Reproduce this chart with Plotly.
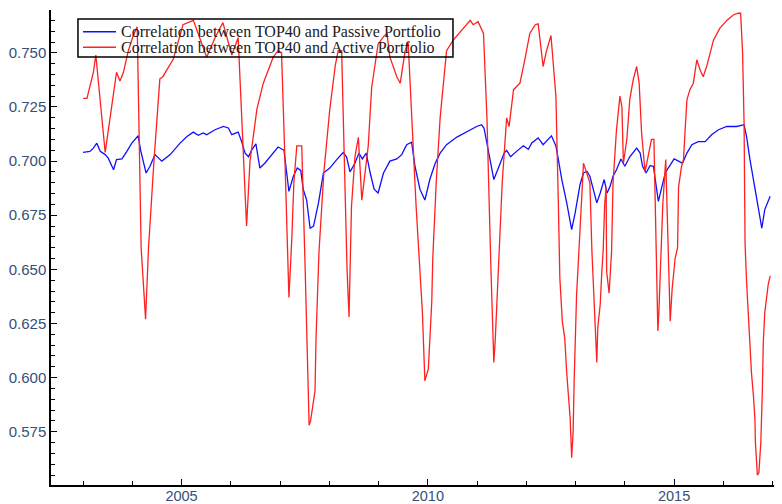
import plotly.graph_objects as go

# Passive portfolio correlation (decimal year, value)
passive_year = [2003.00, 2003.14, 2003.21, 2003.28, 2003.35, 2003.45, 2003.51, 2003.62, 2003.68, 2003.79,
                2003.89, 2003.99, 2004.12, 2004.17, 2004.28, 2004.36, 2004.46, 2004.60, 2004.77, 2004.97,
                2005.11, 2005.24, 2005.34, 2005.44, 2005.51, 2005.68, 2005.85, 2005.95, 2006.02, 2006.15,
                2006.22, 2006.29, 2006.36, 2006.42, 2006.51, 2006.59, 2006.69, 2006.86, 2006.96, 2007.08,
                2007.14, 2007.18, 2007.27, 2007.35, 2007.42, 2007.47, 2007.54, 2007.61, 2007.68, 2007.78,
                2007.88, 2008.01, 2008.15, 2008.28, 2008.35, 2008.42, 2008.52, 2008.60, 2008.67, 2008.75,
                2008.83, 2008.91, 2008.99, 2009.10, 2009.23, 2009.37, 2009.47, 2009.57, 2009.67, 2009.74,
                2009.84, 2009.94, 2010.04, 2010.15, 2010.25, 2010.38, 2010.59, 2010.79, 2010.99, 2011.09,
                2011.14, 2011.21, 2011.26, 2011.34, 2011.47, 2011.55, 2011.60, 2011.68, 2011.80, 2011.94,
                2012.04, 2012.11, 2012.24, 2012.34, 2012.51, 2012.60, 2012.65, 2012.72, 2012.82, 2012.92,
                2012.99, 2013.09, 2013.16, 2013.23, 2013.29, 2013.37, 2013.43, 2013.50, 2013.58, 2013.64,
                2013.70, 2013.76, 2013.83, 2013.92, 2014.00, 2014.10, 2014.24, 2014.31, 2014.36, 2014.43,
                2014.51, 2014.58, 2014.63, 2014.68, 2014.75, 2014.82, 2014.88, 2015.00, 2015.09, 2015.17,
                2015.26, 2015.36, 2015.49, 2015.63, 2015.76, 2015.90, 2016.07, 2016.27, 2016.42, 2016.47,
                2016.54, 2016.61, 2016.69, 2016.78, 2016.84, 2016.95]
passive_corr = [0.7040, 0.7045, 0.7060, 0.7083, 0.7045, 0.7030, 0.7015, 0.6960, 0.7007, 0.7010,
                0.7045, 0.7083, 0.7117, 0.7050, 0.6945, 0.6976, 0.7030, 0.7000, 0.7030, 0.7083,
                0.7114, 0.7134, 0.7119, 0.7130, 0.7122, 0.7145, 0.7160, 0.7153, 0.7122, 0.7134,
                0.7090, 0.7037, 0.7020, 0.7050, 0.7080, 0.6968, 0.6990, 0.7034, 0.7065, 0.7050,
                0.6945, 0.6860, 0.6930, 0.6968, 0.6957, 0.6870, 0.6820, 0.6690, 0.6700, 0.6807,
                0.6945, 0.6968, 0.7007, 0.7040, 0.7020, 0.6950, 0.6990, 0.7037, 0.7010, 0.7037,
                0.6945, 0.6870, 0.6853, 0.6945, 0.7000, 0.7010, 0.7030, 0.7076, 0.7087, 0.6976,
                0.6870, 0.6820, 0.6915, 0.6990, 0.7037, 0.7076, 0.7111, 0.7137, 0.7160, 0.7168,
                0.7153, 0.7070, 0.7007, 0.6915, 0.6990, 0.7037, 0.7050, 0.7020, 0.7045, 0.7071,
                0.7055, 0.7084, 0.7107, 0.7076, 0.7117, 0.7070, 0.7007, 0.6915, 0.6807, 0.6684,
                0.6760, 0.6892, 0.6945, 0.6953, 0.6930, 0.6853, 0.6807, 0.6853, 0.6915, 0.6853,
                0.6884, 0.6930, 0.6960, 0.7010, 0.6976, 0.7020, 0.7060, 0.7037, 0.6976, 0.6945,
                0.6979, 0.6976, 0.6900, 0.6814, 0.6880, 0.6945, 0.6968, 0.7010, 0.7000, 0.6990,
                0.7037, 0.7076, 0.7090, 0.7090, 0.7122, 0.7145, 0.7160, 0.7160, 0.7168, 0.7114,
                0.7007, 0.6915, 0.6820, 0.6690, 0.6776, 0.6838]

# Active portfolio correlation (decimal year, value)
active_year = [2003.00, 2003.08, 2003.21, 2003.26, 2003.45, 2003.68, 2003.75, 2003.82, 2003.92, 2004.02,
               2004.10, 2004.18, 2004.27, 2004.33, 2004.44, 2004.56, 2004.62, 2004.83, 2005.03, 2005.24,
               2005.51, 2005.68, 2005.84, 2006.02, 2006.15, 2006.27, 2006.32, 2006.39, 2006.53, 2006.66,
               2006.86, 2006.96, 2007.03, 2007.10, 2007.18, 2007.24, 2007.28, 2007.34, 2007.44, 2007.51,
               2007.59, 2007.62, 2007.71, 2007.73, 2007.76, 2007.79, 2007.89, 2008.01, 2008.12, 2008.18,
               2008.25, 2008.30, 2008.36, 2008.40, 2008.45, 2008.52, 2008.59, 2008.66, 2008.79, 2008.86,
               2008.99, 2009.10, 2009.17, 2009.23, 2009.37, 2009.44, 2009.54, 2009.60, 2009.67, 2009.76,
               2009.89, 2009.92, 2009.94, 2010.01, 2010.04, 2010.08, 2010.10, 2010.17, 2010.25, 2010.38,
               2010.52, 2010.69, 2010.86, 2010.92, 2011.02, 2011.13, 2011.20, 2011.28, 2011.31, 2011.34,
               2011.37, 2011.41, 2011.44, 2011.51, 2011.60, 2011.65, 2011.74, 2011.87, 2011.97, 2012.07,
               2012.18, 2012.24, 2012.34, 2012.41, 2012.50, 2012.55, 2012.60, 2012.65, 2012.68, 2012.73,
               2012.78, 2012.82, 2012.85, 2012.89, 2012.92, 2012.95, 2012.97, 2012.99, 2013.02, 2013.05,
               2013.09, 2013.16, 2013.19, 2013.29, 2013.33, 2013.36, 2013.39, 2013.43, 2013.45, 2013.50,
               2013.53, 2013.56, 2013.59, 2013.62, 2013.63, 2013.68, 2013.73, 2013.76, 2013.83, 2013.90,
               2013.94, 2013.97, 2014.04, 2014.10, 2014.17, 2014.24, 2014.29, 2014.34, 2014.41, 2014.48,
               2014.54, 2014.59, 2014.63, 2014.67, 2014.69, 2014.73, 2014.77, 2014.83, 2014.88, 2014.92,
               2014.96, 2015.02, 2015.07, 2015.09, 2015.15, 2015.19, 2015.22, 2015.26, 2015.32, 2015.39,
               2015.46, 2015.53, 2015.59, 2015.66, 2015.73, 2015.80, 2015.93, 2016.07, 2016.20, 2016.30,
               2016.35, 2016.39, 2016.42, 2016.44, 2016.47, 2016.51, 2016.54, 2016.57, 2016.61, 2016.64,
               2016.65, 2016.69, 2016.72, 2016.76, 2016.79, 2016.81, 2016.84, 2016.87, 2016.91, 2016.95]
active_corr = [0.7290, 0.7290, 0.7410, 0.7490, 0.7040, 0.7410, 0.7370, 0.7410, 0.7510, 0.7580,
               0.7620, 0.6600, 0.6270, 0.6600, 0.7000, 0.7380, 0.7390, 0.7470, 0.7630, 0.7650,
               0.7480, 0.7570, 0.7640, 0.7490, 0.7570, 0.7000, 0.6700, 0.7000, 0.7240, 0.7360,
               0.7480, 0.7510, 0.7500, 0.7000, 0.6370, 0.6650, 0.6900, 0.7070, 0.7070, 0.6500,
               0.5780, 0.5800, 0.5940, 0.6180, 0.6400, 0.6580, 0.6950, 0.7240, 0.7440, 0.7510,
               0.7510, 0.7000, 0.6500, 0.6280, 0.6790, 0.7020, 0.7110, 0.6820, 0.7070, 0.7340,
               0.7540, 0.7575, 0.7590, 0.7480, 0.7390, 0.7360, 0.7510, 0.7550, 0.7200, 0.6800,
               0.6300, 0.6080, 0.5985, 0.6040, 0.6150, 0.6350, 0.6550, 0.6900, 0.7200, 0.7510,
               0.7560, 0.7606, 0.7650, 0.7630, 0.7644, 0.7590, 0.7200, 0.6510, 0.6330, 0.6070,
               0.6180, 0.6370, 0.6570, 0.6900, 0.7200, 0.7160, 0.7330, 0.7360, 0.7470, 0.7590,
               0.7630, 0.7634, 0.7437, 0.7510, 0.7580, 0.7450, 0.7300, 0.6800, 0.6460, 0.6260,
               0.6180, 0.6020, 0.5930, 0.5810, 0.5630, 0.5750, 0.5980, 0.6210, 0.6385, 0.6510,
               0.6700, 0.6990, 0.6970, 0.6900, 0.6590, 0.6450, 0.6290, 0.6070, 0.6230, 0.6340,
               0.6480, 0.6590, 0.6800, 0.6880, 0.6490, 0.6390, 0.6580, 0.6900, 0.7145, 0.7300,
               0.7250, 0.6990, 0.7100, 0.7285, 0.7376, 0.7437, 0.7360, 0.7130, 0.6950, 0.7040,
               0.7100, 0.7100, 0.6600, 0.6215, 0.6300, 0.6510, 0.6800, 0.7007, 0.6600, 0.6260,
               0.6410, 0.6550, 0.6600, 0.6880, 0.6976, 0.7007, 0.7130, 0.7283, 0.7330, 0.7360,
               0.7468, 0.7420, 0.7390, 0.7437, 0.7498, 0.7560, 0.7614, 0.7650, 0.7675, 0.7683,
               0.7683, 0.7500, 0.7176, 0.6620, 0.6446, 0.6270, 0.6130, 0.6023, 0.5916, 0.5810,
               0.5700, 0.5550, 0.5560, 0.5700, 0.5932, 0.6160, 0.6300, 0.6370, 0.6430, 0.6470]

series_names = ["Correlation between TOP40 and Passive Portfolio",
                "Correlation between TOP40 and Active Portfolio"]
series_colors = ["#1010ff", "#ff2020"]

SERIF = "Liberation Serif"
SANS = "Liberation Sans"
LABEL_COLOR = "#34507a"

fig = go.Figure()
fig.add_trace(go.Scatter(x=passive_year, y=passive_corr, mode="lines", name=series_names[0],
                         line=dict(color=series_colors[0], width=1.3), showlegend=False))
fig.add_trace(go.Scatter(x=active_year, y=active_corr, mode="lines", name=series_names[1],
                         line=dict(color=series_colors[1], width=1.3), showlegend=False))

# Legend drawn as a framed box with line samples and text (compact rows like the original)
legend_box = dict(x0=0.0369, x1=0.5499, y0=0.9011, y1=0.9811)
row_y = [0.9543, 0.9215]
shapes = [dict(type="rect", xref="paper", yref="paper", line=dict(color="black", width=1.5),
               fillcolor="rgba(0,0,0,0)", **legend_box)]
annotations = []
for name, color, yy in zip(series_names, series_colors, row_y):
    shapes.append(dict(type="line", xref="paper", yref="paper", x0=0.0438, x1=0.0889, y0=yy, y1=yy,
                       line=dict(color=color, width=1.5)))
    annotations.append(dict(text=name, xref="paper", yref="paper", x=0.0925, y=yy,
                            xanchor="left", yanchor="middle", showarrow=False,
                            font=dict(family=SERIF, size=16, color="#1a1a1a")))

# Page body has an 8px default margin, so the figure is sized 8px smaller than the window
fig.update_layout(
    width=774, height=496,
    margin=dict(l=43, r=0, t=2, b=19),
    paper_bgcolor="white", plot_bgcolor="white",
    font=dict(family=SANS, size=15, color=LABEL_COLOR),
    showlegend=False,
    shapes=shapes, annotations=annotations,
)
fig.update_xaxes(range=[2002.35, 2017.19], showgrid=False, zeroline=False,
                 showline=True, linecolor="black", linewidth=1.5,
                 ticks="inside", ticklen=6, tickcolor="black", tickwidth=1,
                 tick0=2005, dtick=5, tickformat="d", ticklabelstandoff=-3,
                 minor=dict(ticks="inside", ticklen=4, dtick=1, tick0=2003, tickcolor="black", showgrid=False),
                 tickfont=dict(family=SANS, size=14.5, color=LABEL_COLOR), automargin=False)
fig.update_yaxes(range=[0.5504, 0.7698], showgrid=False, zeroline=False,
                 showline=True, linecolor="black", linewidth=1.5,
                 ticks="inside", ticklen=6, tickcolor="black", tickwidth=1,
                 tick0=0.575, dtick=0.025, tickformat=".3f",
                 minor=dict(ticks="inside", ticklen=4, dtick=0.005, tickcolor="black", showgrid=False),
                 tickfont=dict(family=SANS, size=15, color=LABEL_COLOR), automargin=False)

fig.write_html("out.html")
